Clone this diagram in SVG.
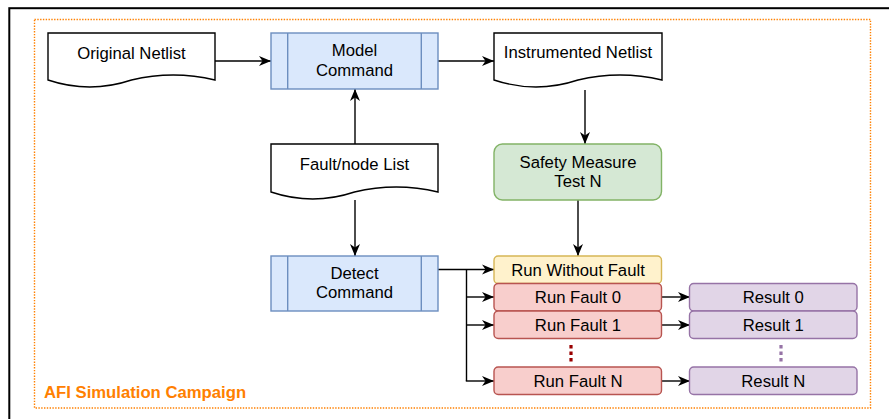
<svg xmlns="http://www.w3.org/2000/svg" width="889" height="419" viewBox="0 0 889 419">
<defs>
<style>
text{font-family:"Liberation Sans",Arial,Helvetica,sans-serif;font-size:16.7px;fill:#000;text-anchor:middle}
.doc{fill:#fff;stroke:#000;stroke-width:1.4}
.blue{fill:#dae8fc;stroke:#6c8ebf;stroke-width:1.4}
.green{fill:#d5e8d4;stroke:#82b366;stroke-width:1.4}
.yellow{fill:#fff2cc;stroke:#d6b656;stroke-width:1.4}
.red{fill:#f8cecc;stroke:#b85450;stroke-width:1.4}
.purple{fill:#e1d5e7;stroke:#9673a6;stroke-width:1.4}
.edge{fill:none;stroke:#000;stroke-width:1.4}
.arrow{marker-end:url(#ah)}
</style>
<marker id="ah" markerUnits="userSpaceOnUse" markerWidth="13" markerHeight="11" viewBox="0 0 13 11" refX="12" refY="5.5" orient="auto">
<path d="M0,0.5 L12,5.5 L0,10.5 L3.5,5.5 Z" fill="#000"/>
</marker>
</defs>
<rect x="9.3" y="8.2" width="900" height="430" fill="#fff" stroke="#000" stroke-width="2"/>
<g id="campaign">
<rect x="34.5" y="19.5" width="836" height="388.5" fill="none" stroke="#FF8000" stroke-width="1.4" stroke-dasharray="1.4 1.4"/>
<text x="44" y="398" style="font-weight:bold;fill:#FF8000;text-anchor:start">AFI Simulation Campaign</text>
</g>
<g id="connectors">
<line class="edge arrow" x1="215" y1="61" x2="271" y2="61"/>
<line class="edge arrow" x1="438" y1="61" x2="494" y2="61"/>
<line class="edge arrow" x1="355" y1="144" x2="355" y2="89"/>
<line class="edge arrow" x1="585" y1="90" x2="585" y2="144"/>
<line class="edge arrow" x1="578" y1="200" x2="578" y2="256"/>
<line class="edge arrow" x1="355" y1="200" x2="355" y2="256"/>
<line class="edge arrow" x1="438" y1="269.5" x2="494" y2="269.5"/>
<path class="edge" d="M466.5,269.5 V381"/>
<line class="edge arrow" x1="466.5" y1="297" x2="494" y2="297"/>
<line class="edge arrow" x1="466.5" y1="325" x2="494" y2="325"/>
<line class="edge arrow" x1="465.8" y1="381" x2="494" y2="381"/>
<line class="edge arrow" x1="661.5" y1="297" x2="690" y2="297"/>
<line class="edge arrow" x1="661.5" y1="325" x2="690" y2="325"/>
<line class="edge arrow" x1="661.5" y1="381" x2="690" y2="381"/>
<line x1="571" y1="345" x2="571" y2="362" stroke="#990000" stroke-width="3.2" stroke-dasharray="3.4 3.1"/>
<line x1="781" y1="345" x2="781" y2="362" stroke="#9673a6" stroke-width="3.2" stroke-dasharray="3.4 3.1"/>
</g>
<g id="original-netlist">
<path class="doc" d="M48,33 H215 V80 Q173.25,70 131.5,80 Q89.75,94 48,80 Z"/>
<text x="131.5" y="58.5">Original Netlist</text>
</g>
<g id="model-command">
<rect class="blue" x="271" y="33" width="167" height="56"/>
<line class="blue" x1="287.7" y1="33" x2="287.7" y2="89"/>
<line class="blue" x1="421.3" y1="33" x2="421.3" y2="89"/>
<text x="354.5" y="56">Model</text>
<text x="354.5" y="75.5">Command</text>
</g>
<g id="instrumented-netlist">
<path class="doc" d="M494,33 H662 V80 Q620,70 578,80 Q536,94 494,80 Z"/>
<text x="578" y="58">Instrumented Netlist</text>
</g>
<g id="fault-node-list">
<path class="doc" d="M271,144 H438 V192 Q396.25,182 354.5,192 Q312.75,206 271,192 Z"/>
<text x="354.5" y="169.5">Fault/node List</text>
</g>
<g id="safety-measure">
<rect class="green" x="494" y="144" width="167.5" height="56" rx="8.4"/>
<text x="578" y="167.5">Safety Measure</text>
<text x="578" y="187">Test N</text>
</g>
<g id="detect-command">
<rect class="blue" x="271" y="256" width="167" height="55"/>
<line class="blue" x1="287.7" y1="256" x2="287.7" y2="311"/>
<line class="blue" x1="421.3" y1="256" x2="421.3" y2="311"/>
<text x="354.5" y="278.5">Detect</text>
<text x="354.5" y="298">Command</text>
</g>
<g id="run-without-fault">
<rect class="yellow" x="494" y="256" width="167.5" height="27.5" rx="4.2"/>
<text x="578" y="275.5">Run Without Fault</text>
</g>
<g id="run-fault-0">
<rect class="red" x="494" y="283.5" width="167.5" height="27.5" rx="4.2"/>
<text x="578" y="303">Run Fault 0</text>
</g>
<g id="run-fault-1">
<rect class="red" x="494" y="311" width="167.5" height="27.5" rx="4.2"/>
<text x="578" y="330.5">Run Fault 1</text>
</g>
<g id="run-fault-n">
<rect class="red" x="494" y="367" width="167.5" height="27.5" rx="4.2"/>
<text x="578" y="386.5">Run Fault N</text>
</g>
<g id="result-0">
<rect class="purple" x="689.5" y="283.5" width="167.5" height="27.5" rx="4.2"/>
<text x="773.3" y="303">Result 0</text>
</g>
<g id="result-1">
<rect class="purple" x="689.5" y="311" width="167.5" height="27.5" rx="4.2"/>
<text x="773.3" y="330.5">Result 1</text>
</g>
<g id="result-n">
<rect class="purple" x="689.5" y="367" width="167.5" height="27.5" rx="4.2"/>
<text x="773.3" y="386.5">Result N</text>
</g>
</svg>
